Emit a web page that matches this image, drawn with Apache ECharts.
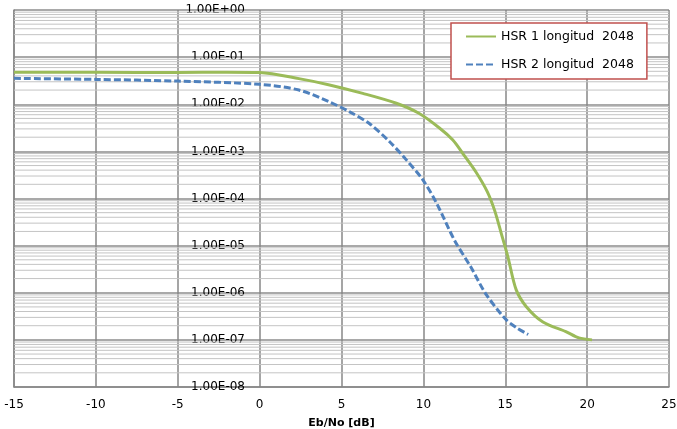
<!DOCTYPE html>
<html>
<head>
<meta charset="utf-8">
<script src="https://cdn.jsdelivr.net/npm/echarts@6/dist/echarts.min.js"></script>
<style>
html,body{margin:0;padding:0;background:#fff;}
#chart{width:677px;height:429px;}
</style>
</head>
<body>
<div id="chart"></div>
<script>
// ---- data ----
const seriesNames = ['HSR 1 longitud  2048', 'HSR 2 longitud  2048'];
const hsr1X = [-15, -10, -5, -2, 0, 2.4, 4.27, 6.3, 8.35, 9.7, 11, 11.8, 12.4, 13.2, 13.9, 14.35, 14.76, 15.16, 15.67, 16.3, 17.3, 18.7, 19.5, 20.3];
const hsr1Y = [0.0475, 0.0475, 0.047, 0.048, 0.047, 0.035, 0.0257, 0.017, 0.0105, 0.0065, 0.0031, 0.00174, 9.1e-4, 3.7e-4, 1.4e-4, 5.6e-5, 1.8e-5, 5.8e-6, 1.15e-6, 5e-7, 2.4e-7, 1.5e-7, 1.1e-7, 1.0e-7];
const hsr2X = [-15, -10, -5, 0, 2.4, 4.27, 5.5, 6.7, 7.94, 8.96, 9.98, 10.8, 11.9, 12.9, 13.8, 15, 15.7, 16.4];
const hsr2Y = [0.0355, 0.0337, 0.031, 0.0265, 0.02, 0.0112, 0.0069, 0.0039, 0.0016, 6.6e-4, 2.45e-4, 8e-5, 1.3e-5, 3.5e-6, 9.6e-7, 2.8e-7, 1.8e-7, 1.3e-7];
const xTicks = [-15, -10, -5, 0, 5, 10, 15, 20, 25];
const yDecades = [-8, -7, -6, -5, -4, -3, -2, -1, 0];
const minorMultipliers = [2, 3, 4, 5, 6, 7, 8, 9];

// build helpers
const pair = (xs, ys) => xs.map((x, i) => [x, ys[i]]);
const minorVals = [];
yDecades.slice(0, -1).forEach(e => minorMultipliers.forEach(m => minorVals.push([m * Math.pow(10, e)])));

const FONT = 'DejaVu Sans';
const chart = echarts.init(document.getElementById('chart'), null, {renderer: 'canvas'});
chart.setOption({
  animation: false,
  backgroundColor: '#ffffff',
  grid: {left: 14, right: 8, top: 10, bottom: 42, containLabel: false, outerBoundsMode: 'none'},
  legend: {
    data: seriesNames,
    orient: 'vertical',
    left: 451, top: 23,
    padding: [7, 13, 8, 14],
    itemGap: 15,
    itemWidth: 30, itemHeight: 14,
    borderColor: '#c0504d', borderWidth: 1.5,
    backgroundColor: '#ffffff',
    itemStyle: {color: 'rgba(0,0,0,0)', borderWidth: 0, opacity: 0},
    textStyle: {fontFamily: FONT, fontSize: 12.5, color: '#000'}
  },
  xAxis: {
    type: 'value', min: xTicks[0], max: xTicks[xTicks.length - 1], interval: 5,
    name: 'Eb/No [dB]', nameLocation: 'middle', nameGap: 31,
    nameTextStyle: {fontFamily: FONT, fontSize: 11, fontWeight: 'bold', color: '#000'},
    axisLine: {show: true, onZero: false, lineStyle: {color: '#878787', width: 1.5}},
    axisTick: {show: false},
    axisLabel: {fontFamily: FONT, fontSize: 12, color: '#000', margin: 12},
    splitLine: {show: true, lineStyle: {color: '#878787', width: 1.5}}
  },
  yAxis: {
    type: 'log', logBase: 10, min: Math.pow(10, yDecades[0]), max: Math.pow(10, yDecades[yDecades.length - 1]),
    position: 'left',
    axisLine: {show: true, onZero: false, lineStyle: {color: '#878787', width: 1.5}},
    axisTick: {show: false},
    axisLabel: {
      fontFamily: FONT, fontSize: 12, color: '#000', margin: -231,
      formatter: v => {
        const e = Math.round(Math.log10(v));
        return '1.00E' + (e < 0 ? '-' : '+') + String(Math.abs(e)).padStart(2, '0');
      }
    },
    splitLine: {show: true, lineStyle: {color: '#8c8c8c', width: 1.5}}
  },
  series: [
    {
      type: 'custom', name: 'minor', silent: true, z: 1,
      data: minorVals,
      encode: {y: 0},
      renderItem: (params, api) => {
        const cs = params.coordSys;
        const p = api.coord([0, api.value(0)]);
        return {type: 'line', shape: {x1: cs.x, y1: p[1], x2: cs.x + cs.width, y2: p[1]},
          style: {stroke: '#c4c4c4', lineWidth: 1}};
      }
    },
    {
      name: seriesNames[0], type: 'line', smooth: 0.3, symbol: 'none', z: 3,
      data: pair(hsr1X, hsr1Y),
      lineStyle: {color: '#9bbb59', width: 3},
      itemStyle: {color: '#9bbb59'}
    },
    {
      name: seriesNames[1], type: 'line', smooth: 0.3, symbol: 'none', z: 3,
      data: pair(hsr2X, hsr2Y),
      lineStyle: {color: '#4f81bd', width: 3, type: [7, 3]},
      itemStyle: {color: '#4f81bd'}
    }
  ]
});
</script>
</body>
</html>
